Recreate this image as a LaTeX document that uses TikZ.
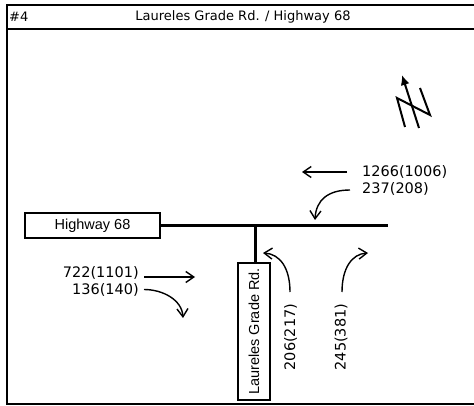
\documentclass[tikz,border=0pt]{standalone}
\usepackage{fontspec}
\setmainfont{DejaVu Sans}
\newfontfamily\arialf{Liberation Sans}
\usetikzlibrary{arrows.meta}
\begin{document}
\begin{tikzpicture}[x=1pt,y=-1pt,
  frame/.style={line width=2.5pt},
  road/.style={line width=3pt},
  labelbox/.style={draw,line width=1.8pt,inner sep=0pt,font=\arialf\fontsize{14.5}{17}\selectfont},
  num/.style={font=\fontsize{14.5}{17}\selectfont,inner sep=0pt},
  move/.style={line width=1.4pt,-{Straight Barb[length=8pt,width=11pt,line width=1.4pt]}},
]
\useasboundingbox (0,0) rectangle (474,406);
% frame
\coordinate (ftr) at (474,5);
\coordinate (ftl) at (7,5);
\coordinate (fbl) at (7,404);
\coordinate (fbr) at (474,404);
\coordinate (sl) at (7,29);
\coordinate (sr) at (474,29);
\draw[frame] (ftr) -- (ftl) -- (fbl) -- (fbr);
\draw[line width=2pt] (sl) -- (sr);
\node[font=\fontsize{13}{15}\selectfont, anchor=west, inner sep=0pt] (idx) at (9,17) {\#4};
\node[font=\fontsize{13}{15}\selectfont, inner sep=0pt] (title) at (243,17) {Laureles Grade Rd. / Highway 68};
% roads
\node[labelbox, minimum width=135pt, minimum height=25pt] (hwy) at (92.5,225.5) {Highway 68};
\coordinate (hend) at (388,225.5);
\draw[road] (hwy.east) -- (hend);
\coordinate (tj) at (255,225.5);
\node[labelbox, rotate=90, minimum width=137pt, minimum height=32pt] (lgr) at (254,331.5) {Laureles Grade Rd.};
\draw[road] (tj) -- (tj |- lgr.east);
% volumes
\node[num, anchor=west] (n1) at (362,172) {1266(1006)};
\node[num, anchor=west] (n2) at (362,189) {237(208)};
\node[num, anchor=east] (n3) at (139,273) {722(1101)};
\node[num, anchor=east] (n4) at (139,289.5) {136(140)};
\node[num, rotate=90] (n5) at (290.5,337) {206(217)};
\node[num, rotate=90] (n6) at (341,337) {245(381)};
% movement arrows
\coordinate (a1s) at (347,172); \coordinate (a1e) at (302,172);
\draw[move] (a1s) -- (a1e);
\coordinate (a2s) at (350,190); \coordinate (a2e) at (315,220);
\draw[move] (a2s) .. controls (328,190) and (316,200) .. (a2e);
\coordinate (a3s) at (144,277); \coordinate (a3e) at (195,277);
\draw[move] (a3s) -- (a3e);
\coordinate (a4s) at (144,289.5); \coordinate (a4e) at (183,318);
\draw[move] (a4s) .. controls (163,289.5) and (182,300) .. (a4e);
\coordinate (a5s) at (290,292); \coordinate (a5e) at (263,253);
\draw[move] (a5s) .. controls (290,268) and (280,254) .. (a5e);
\coordinate (a6s) at (342,292); \coordinate (a6e) at (368,253);
\draw[move] (a6s) .. controls (342,268) and (352,254) .. (a6e);
% north arrow
\coordinate (ns) at (419,128); \coordinate (nt) at (402,75);
\draw[line width=2pt, -{Latex[length=10pt,width=9pt]}] (ns) -- (nt);
\coordinate (nA) at (405,127); \coordinate (nB) at (397,98);
\coordinate (nC) at (430,115); \coordinate (nD) at (420,88);
\draw[line width=2pt] (nA) -- (nB) -- (nC) -- (nD);
\end{tikzpicture}
\end{document}
